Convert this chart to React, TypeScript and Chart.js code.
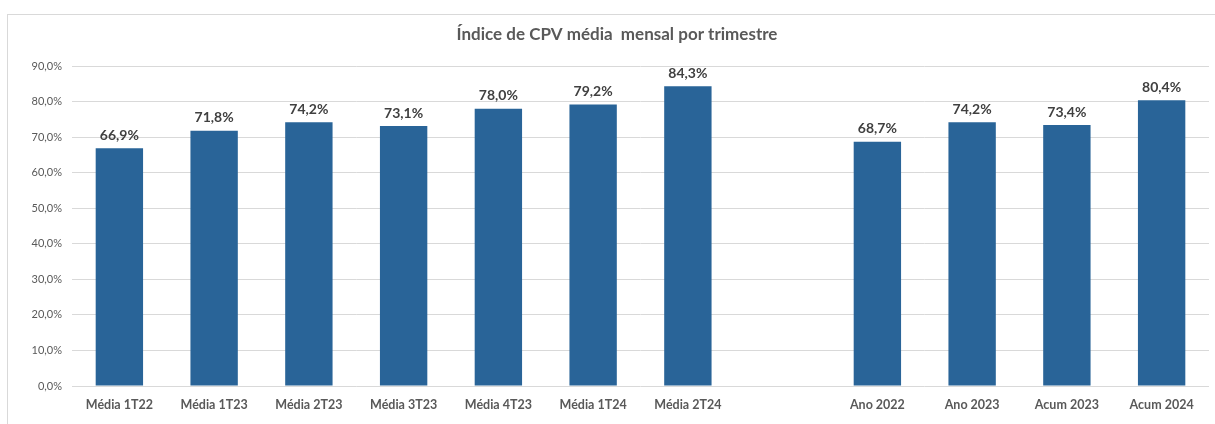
import React, { useEffect, useRef } from "react";
import { Chart, registerables } from "chart.js";

Chart.register(...registerables);

const categories = [
  "Média 1T22",
  "Média 1T23",
  "Média 2T23",
  "Média 3T23",
  "Média 4T23",
  "Média 1T24",
  "Média 2T24",
  "",
  "Ano 2022",
  "Ano 2023",
  "Acum 2023",
  "Acum 2024",
];
const values: (number | null)[] = [66.9, 71.8, 74.2, 73.1, 78.0, 79.2, 84.3, null, 68.7, 74.2, 73.4, 80.4];
const yTicks = [0, 10, 20, 30, 40, 50, 60, 70, 80, 90];
const title = "Índice de CPV média  mensal por trimestre";

const FONT = "Lato, 'Open Sans', sans-serif";
const fmt = (v: number) => v.toFixed(1).replace(".", ",") + "%";

const labelPlugin = {
  id: "barLabels",
  afterDatasetsDraw(chart: any) {
    const ctx = chart.ctx;
    const meta = chart.getDatasetMeta(0);
    ctx.save();
    ctx.font = `bold 14px ${FONT}`;
    ctx.fillStyle = "#404040";
    ctx.textAlign = "center";
    ctx.textBaseline = "bottom";
    meta.data.forEach((bar: any, i: number) => {
      const v = values[i];
      if (v == null) return;
      ctx.fillText(fmt(v), bar.x, bar.y - 6);
    });
    ctx.restore();
  },
  afterDraw(chart: any) {
    const ctx = chart.ctx;
    ctx.save();
    ctx.font = `bold 17px ${FONT}`;
    ctx.fillStyle = "#595959";
    ctx.textAlign = "center";
    ctx.textBaseline = "middle";
    ctx.fillText(title, 617, 35);
    ctx.restore();
  },
};

export default function App() {
  const ref = useRef<HTMLCanvasElement | null>(null);
  useEffect(() => {
    if (!ref.current) return;
    const chart = new Chart(ref.current, {
      type: "bar",
      data: {
        labels: categories,
        datasets: [
          {
            data: values,
            backgroundColor: "#296498",
            borderWidth: 0,
            barPercentage: 0.5,
            categoryPercentage: 1,
          },
        ],
      },
      options: {
        animation: false,
        responsive: false,
        maintainAspectRatio: false,
        layout: { padding: { top: 66, right: 6, left: 0, bottom: 0 } },
        plugins: { legend: { display: false }, title: { display: false }, tooltip: { enabled: false } },
        scales: {
          x: {
            grid: { display: false, drawTicks: false },
            border: { display: false },
            ticks: {
              font: { family: FONT, size: 12.5, weight: "bold" },
              color: "#595959",
              padding: 11,
              maxRotation: 0,
              autoSkip: false,
            },
            afterFit: (s: any) => {
              s.height = 38;
            },
          },
          y: {
            min: 0,
            max: 90,
            afterBuildTicks: (s: any) => {
              s.ticks = yTicks.map((v) => ({ value: v }));
            },
            grid: { color: "#d9d9d9", drawTicks: false, lineWidth: 1 },
            border: { display: false },
            ticks: {
              font: { family: FONT, size: 11 },
              color: "#595959",
              padding: 10,
              callback: (v: any) => fmt(Number(v)),
            },
            afterFit: (s: any) => {
              s.width = 72;
            },
          },
        },
      },
      plugins: [labelPlugin],
    });
    return () => chart.destroy();
  }, []);

  return (
    <div style={{ position: "fixed", left: 0, top: 0, width: 1215, height: 424, background: "#fff", overflow: "hidden" }}>
      <div
        style={{
          position: "absolute",
          left: 7,
          top: 14,
          width: 1230,
          height: 430,
          border: "1px solid #d9d9d9",
          boxSizing: "border-box",
        }}
      />
      <canvas ref={ref} width={1215} height={424} style={{ position: "absolute", left: 0, top: 0 }} />
    </div>
  );
}
